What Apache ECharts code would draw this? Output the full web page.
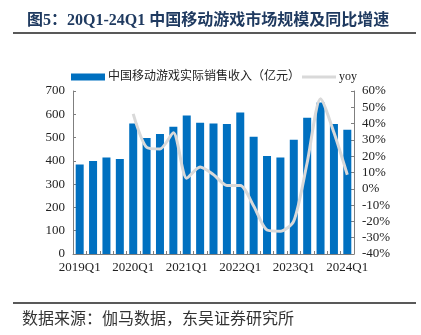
<!DOCTYPE html>
<html><head><meta charset="utf-8">
<script src="https://cdn.jsdelivr.net/npm/echarts@6/dist/echarts.min.js"></script>
<style>html,body{margin:0;padding:0;background:#fff}#c{width:421px;height:335px}</style>
</head><body><div id="c"></div>
<script>
const categories = ['2019Q1','2019Q2','2019Q3','2019Q4','2020Q1','2020Q2','2020Q3','2020Q4','2021Q1','2021Q2','2021Q3','2021Q4','2022Q1','2022Q2','2022Q3','2022Q4','2023Q1','2023Q2','2023Q3','2023Q4','2024Q1'];
const revenue = [384, 399, 414, 408, 560, 498, 515, 547, 595, 564, 560, 558, 608, 504, 421, 414, 491, 585, 651, 558, 534];
const yoy = [null, null, null, null, 46.0, 25.5, 24.4, 34.4, 6.5, 13.3, 8.7, 2.1, 2.1, -10.5, -25.3, -26.0, -19.8, 16.0, 55.3, 34.5, 8.6];
const leftTicks = [0, 100, 200, 300, 400, 500, 600, 700];
const rightTicks = [-40, -30, -20, -10, 0, 10, 20, 30, 40, 50, 60];
const titleText = '图5：20Q1-24Q1 中国移动游戏市场规模及同比增速';
const sourceText = '数据来源：伽马数据，东吴证券研究所';
const barName = '中国移动游戏实际销售收入（亿元）';
const lineName = 'yoy';

const serif = '"Liberation Serif", "Noto Sans CJK SC", serif';
const chart = echarts.init(document.getElementById('c'), null, {renderer: 'canvas'});
chart.setOption({
  animation: false,
  backgroundColor: '#fff',
  title: {
    text: titleText, left: 22, top: 8,
    textStyle: {fontFamily: serif, fontSize: 16, fontWeight: 'bold', color: '#1F3A60'}
  },
  graphic: [
    {type: 'line', shape: {x1: 13, y1: 33, x2: 416, y2: 33}, style: {stroke: '#222', lineWidth: 1.5}},
    {type: 'line', shape: {x1: 13, y1: 303, x2: 416, y2: 303}, style: {stroke: '#222', lineWidth: 1.5}},
    {type: 'text', left: 22, top: 310, style: {text: sourceText, font: '16px "Noto Sans CJK SC", serif', fill: '#333'}}
  ],
  legend: {
    left: 66, top: 66, itemGap: 2, itemWidth: 34, itemHeight: 7,
    textStyle: {fontFamily: serif, fontSize: 12, color: '#222', padding: [0, 0, 0, -2]},
    data: [
      {name: barName, icon: 'rect'},
      {name: lineName, icon: 'path://M0,0 L34,0 L34,3 L0,3 Z', itemStyle: {color: '#D9D9D9'}}
    ]
  },
  grid: {left: 73, right: 67, top: 91, bottom: 81, containLabel: false},
  xAxis: {
    type: 'category', data: categories, boundaryGap: true,
    axisLine: {lineStyle: {color: '#7f7f7f'}},
    axisTick: {show: true, interval: 0, length: 3, inside: true, lineStyle: {color: '#7f7f7f'}},
    axisLabel: {interval: 3, fontFamily: serif, fontSize: 13, color: '#222', margin: 7}
  },
  yAxis: [
    {type: 'value', min: leftTicks[0], max: leftTicks[leftTicks.length - 1], interval: 100,
     axisLine: {show: true, lineStyle: {color: '#7f7f7f'}},
     axisTick: {show: true, length: 3, inside: true, lineStyle: {color: '#7f7f7f'}},
     splitLine: {show: false},
     axisLabel: {fontFamily: serif, fontSize: 13, color: '#222', margin: 8}},
    {type: 'value', min: rightTicks[0], max: rightTicks[rightTicks.length - 1], interval: 10,
     position: 'right',
     axisLine: {show: true, lineStyle: {color: '#7f7f7f'}},
     axisTick: {show: true, length: 3, inside: true, lineStyle: {color: '#7f7f7f'}},
     splitLine: {show: false},
     axisLabel: {fontFamily: serif, fontSize: 13, color: '#222', margin: 8, formatter: v => v + '%'}}
  ],
  series: [
    {name: barName, type: 'bar', data: revenue, barWidth: 8, yAxisIndex: 0,
     itemStyle: {color: '#0070C0'}},
    {name: lineName, type: 'line', data: yoy, yAxisIndex: 1, smooth: 0.25,
     showSymbol: false, symbol: 'none', connectNulls: false,
     lineStyle: {color: '#D9D9D9', width: 3}, itemStyle: {color: '#D9D9D9'}}
  ]
});
</script></body></html>
